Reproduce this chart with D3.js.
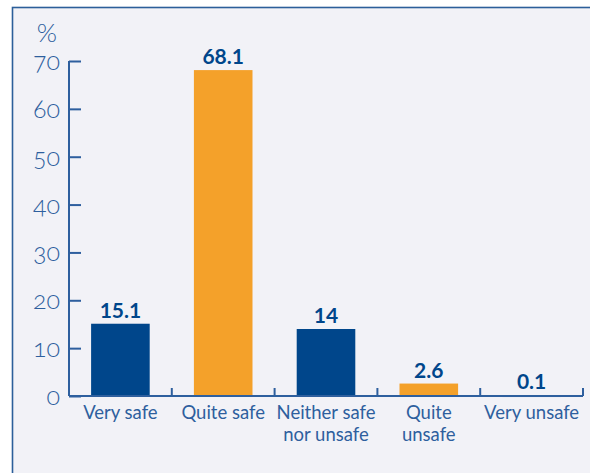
<!DOCTYPE html>
<html><head><meta charset="utf-8">
<script src="https://cdn.jsdelivr.net/npm/d3@7"></script>
<style>
html,body{margin:0;padding:0;background:#fff;}
svg{display:block;}
.ytick{font-variant-numeric:oldstyle-nums;font-feature-settings:"onum" 1;}
</style></head>
<body>
<svg id="chart" width="590" height="473"></svg>
<script>
const categories = [["Very safe"], ["Quite safe"], ["Neither safe", "nor unsafe"], ["Quite", "unsafe"], ["Very unsafe"]];
const values = [15.1, 68.1, 14, 2.6, 0.1];
const valueLabels = ["15.1", "68.1", "14", "2.6", "0.1"];
const barColors = ["#00468b", "#f4a12a", "#00468b", "#f4a12a", "#00468b"];
const yTicks = [0, 10, 20, 30, 40, 50, 60, 70];

const svg = d3.select("#chart");
const axisColor = "#2e5f9e";
const font = "Lato, 'Open Sans', sans-serif";

// panel
svg.append("rect").attr("x", 12.5).attr("y", 7.5).attr("width", 600).attr("height", 500)
  .attr("fill", "#f2f2f7").attr("stroke", "#2c5f9a").attr("stroke-width", 1.6);

const x0 = 69, x1 = 583, yTop = 61, yBot = 396;
const x = d3.scaleBand().domain(d3.range(values.length)).range([x0, x1]).paddingInner(0.43).paddingOuter(0.215);
const band = d3.scaleBand().domain(d3.range(values.length)).range([x0, x1]);
const y = d3.scaleLinear().domain([0, 70]).range([yBot, yTop]);

// bars
svg.selectAll("rect.bar").data(values).enter().append("rect")
  .attr("class", "bar")
  .attr("x", (d, i) => x(i))
  .attr("width", x.bandwidth())
  .attr("y", d => y(d))
  .attr("height", d => Math.max(1.5, yBot - y(d)))
  .attr("fill", (d, i) => barColors[i]);

// value labels
svg.selectAll("text.val").data(values).enter().append("text")
  .attr("class", "val")
  .attr("x", (d, i) => x(i) + x.bandwidth() / 2)
  .attr("y", d => Math.min(y(d), yBot - 1.5) - 6)
  .attr("text-anchor", "middle")
  .attr("font-family", font).attr("font-weight", "bold").attr("font-size", 21)
  .attr("fill", "#00468b")
  .text((d, i) => valueLabels[i]);

// y axis
const yAxis = d3.axisRight(y).tickValues(yTicks).tickSize(12).tickFormat("");
const gy = svg.append("g").attr("transform", `translate(${x0},0)`).call(yAxis);
gy.select(".domain").remove();
gy.selectAll("line").attr("stroke", axisColor).attr("stroke-width", 2);
svg.append("line").attr("x1", x0).attr("x2", x0).attr("y1", yTop).attr("y2", yBot)
  .attr("stroke", axisColor).attr("stroke-width", 2);

svg.selectAll("text.ytick").data(yTicks).enter().append("text")
  .attr("class", "ytick")
  .attr("x", 60).attr("y", d => y(d) + 9)
  .attr("text-anchor", "end")
  .attr("font-family", font).attr("font-size", 25).attr("font-weight", 300)
  .attr("fill", axisColor)
  .text(d => d);

svg.append("text").attr("x", 47).attr("y", 42).attr("text-anchor", "middle")
  .attr("font-family", font).attr("font-size", 26).attr("font-weight", 300).attr("fill", axisColor).text("%");

// x axis
svg.append("line").attr("x1", x0).attr("x2", x1).attr("y1", yBot).attr("y2", yBot)
  .attr("stroke", axisColor).attr("stroke-width", 2);
svg.selectAll("line.xtick").data(d3.range(1, values.length + 1)).enter().append("line")
  .attr("class", "xtick")
  .attr("x1", i => i < values.length ? band(i) : x1)
  .attr("x2", i => i < values.length ? band(i) : x1)
  .attr("y1", yBot).attr("y2", yBot - 8)
  .attr("stroke", axisColor).attr("stroke-width", 2);

// category labels, one text element per line
const catLines = [];
categories.forEach((lines, i) => lines.forEach((line, j) => catLines.push({i, j, line})));
svg.selectAll("text.cat").data(catLines).enter().append("text")
  .attr("class", "cat")
  .attr("x", d => band(d.i) + band.bandwidth() / 2)
  .attr("y", d => 419 + d.j * 22)
  .attr("text-anchor", "middle")
  .attr("font-family", font).attr("font-size", 18.5).attr("font-weight", 400)
  .attr("fill", axisColor)
  .text(d => d.line);
</script>
</body></html>
